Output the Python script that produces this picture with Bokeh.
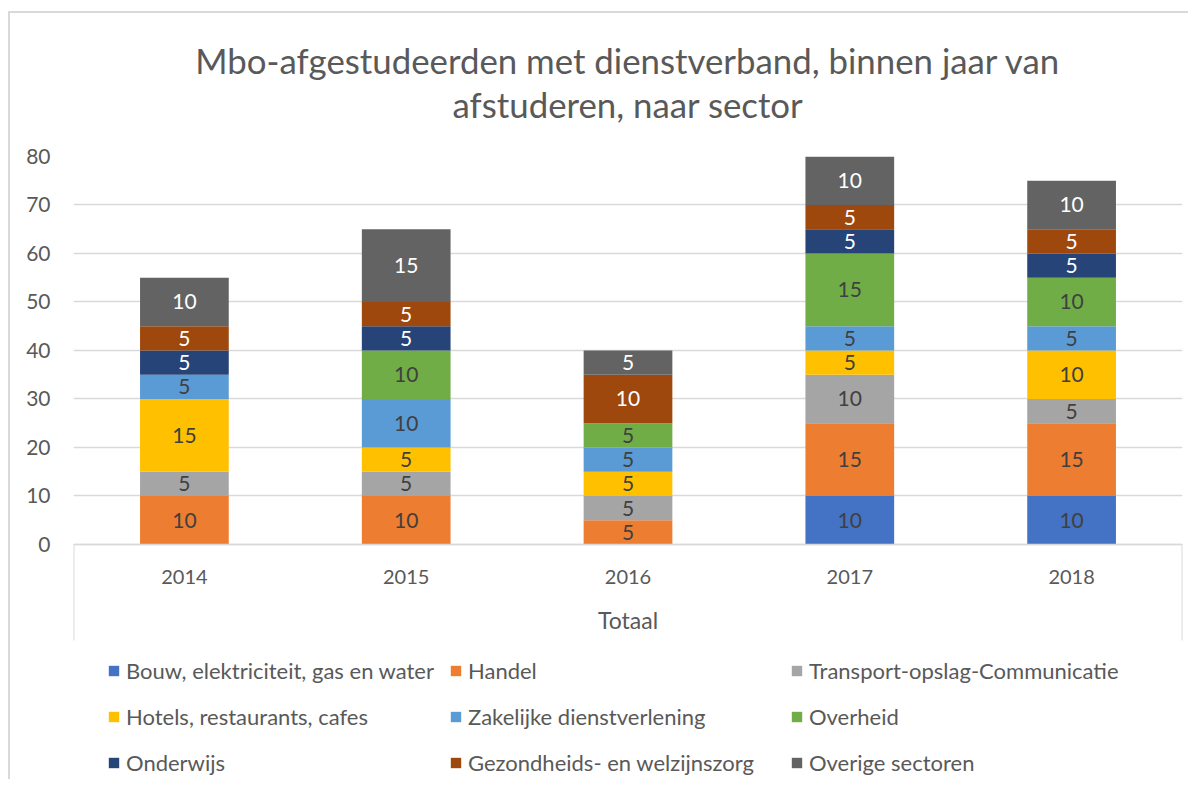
from bokeh.plotting import figure
from bokeh.models import ColumnDataSource, FactorRange, Range1d, FixedTicker, Legend, LegendItem, Title
from bokeh.core.properties import value
from bokeh.embed import file_html
from bokeh.resources import INLINE
import numpy as np

# ---------------- data ----------------
years = ["2014", "2015", "2016", "2017", "2018"]
sectors = [
    "Bouw, elektriciteit, gas en water",
    "Handel",
    "Transport-opslag-Communicatie",
    "Hotels, restaurants, cafes",
    "Zakelijke dienstverlening",
    "Overheid",
    "Onderwijs",
    "Gezondheids- en welzijnszorg",
    "Overige sectoren",
]
bouw = [0, 0, 0, 10, 10]
handel = [10, 10, 5, 15, 15]
transport = [5, 5, 5, 10, 5]
hotels = [15, 5, 5, 5, 10]
zakelijk = [5, 10, 5, 5, 5]
overheid = [0, 10, 5, 15, 10]
onderwijs = [5, 5, 0, 5, 5]
gezondheid = [5, 5, 10, 5, 5]
overige = [10, 15, 5, 10, 10]
y_ticks = [0, 10, 20, 30, 40, 50, 60, 70, 80]
group_label = "Totaal"
title_line1 = "Mbo-afgestudeerden met dienstverband, binnen jaar van"
title_line2 = "afstuderen, naar sector"

colors = ["#4472C4", "#ED7D31", "#A5A5A5", "#FFC000", "#5B9BD5",
          "#70AD47", "#264478", "#9E480E", "#636363"]
label_colors = ["#404040"] * 6 + ["#FFFFFF"] * 3

series = [bouw, handel, transport, hotels, zakelijk, overheid, onderwijs, gezondheid, overige]
keys = ["s%d" % i for i in range(len(series))]
data = {"year": years}
for k, s in zip(keys, series):
    data[k] = s
src = ColumnDataSource(data)

FONT = "Lato"
GRAY = "#595959"
GRID = "#D9D9D9"

box_bottom = -19.8     # lower end of the category-axis box
frame_bottom = -48.9   # room below the axis for the legend
p = figure(
    x_range=FactorRange(*years, range_padding=0),
    y_range=Range1d(frame_bottom, 80),
    width=1180, height=768,
    min_border_left=63, min_border_right=8, min_border_top=143, min_border_bottom=0,
    output_backend="svg", toolbar_location=None,
)
p.styles = {"border-top": "2px solid #D9D9D9", "border-left": "2px solid #D9D9D9",
            "margin-top": "11px", "margin-left": "8px"}

p.title.text = title_line1
p.title.align = "center"
p.title.text_font = FONT
p.title.text_font_size = "34.8px"
p.title.text_font_style = "normal"
p.title.text_color = GRAY
p.title.standoff = -61
p.title.offset = -4
p.add_layout(Title(text=title_line2, align="center", text_font=FONT, text_font_size="34.8px",
                   text_font_style="normal", text_color=GRAY, standoff=63, offset=-4), "above")

p.outline_line_color = None
p.xgrid.visible = False
p.ygrid.ticker = FixedTicker(ticks=y_ticks)
p.ygrid.grid_line_color = GRID
p.ygrid.grid_line_width = 1.5

yax = p.yaxis[0]
yax.ticker = FixedTicker(ticks=y_ticks)
yax.axis_line_color = None
yax.major_tick_line_color = None
yax.major_tick_out = 0
yax.major_tick_in = 0
yax.minor_tick_line_color = None
yax.major_label_standoff = 23
yax.major_label_text_font = FONT
yax.major_label_text_font_size = "21px"
yax.major_label_text_color = GRAY

xax = p.xaxis[0]
xax.fixed_location = 0
xax.axis_line_color = GRID
xax.axis_line_width = 1.5
xax.major_tick_line_color = None
xax.minor_tick_line_color = None
xax.major_label_standoff = 20
xax.major_label_text_font = FONT
xax.major_label_text_font_size = "20px"
xax.major_label_text_color = GRAY
xax.axis_label = group_label
xax.axis_label_standoff = 18
xax.axis_label_text_font = FONT
xax.axis_label_text_font_size = "23px"
xax.axis_label_text_font_style = "normal"
xax.axis_label_text_color = GRAY

renderers = p.vbar_stack(keys, x="year", width=0.4, source=src, color=colors, line_color=None)

# group box lines of the category axis
p.segment(x0=[(years[0], -0.5), (years[-1], 0.5)], x1=[(years[0], -0.5), (years[-1], 0.5)],
          y0=[0, 0], y1=[box_bottom, box_bottom], line_color=GRID, line_width=2)

# data labels
lx, ly, lt, lc = [], [], [], []
bottom = np.zeros(len(years))
for s, c in zip(series, label_colors):
    vals = np.array(s, dtype=float)
    for i, v in enumerate(vals):
        if v > 0:
            lx.append(years[i]); ly.append(bottom[i] + v / 2); lt.append(str(int(v))); lc.append(c)
    bottom += vals
lsrc = ColumnDataSource(dict(x=lx, y=ly, t=lt, c=lc))
p.text(x="x", y="y", text="t", text_color="c", source=lsrc, text_align="center",
       text_baseline="middle", text_font=value(FONT), text_font_size="21px")

legend = Legend(
    items=[LegendItem(label=n, renderers=[r]) for n, r in zip(sectors, renderers)],
    orientation="horizontal", ncols=3,
    location=(34, 3),
    padding=0, margin=0, spacing=15,
    glyph_width=13, glyph_height=13, label_standoff=6,
    label_height=31, label_width=307,
    label_text_font=FONT, label_text_font_size="22px", label_text_color=GRAY,
    border_line_color=None, background_fill_alpha=0,
)
p.add_layout(legend, "center")

open("out.html", "w").write(file_html(p, INLINE))
